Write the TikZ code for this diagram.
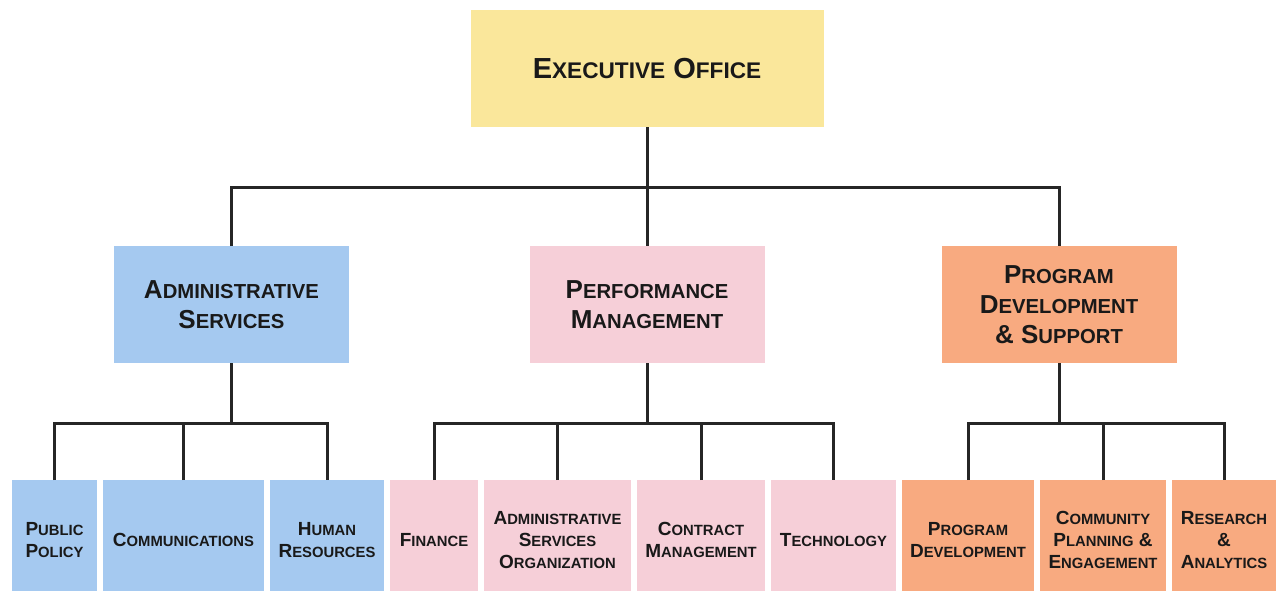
\documentclass[tikz,border=0pt]{standalone}
\usepackage{fontspec}
\setmainfont{Liberation Sans}
\usetikzlibrary{positioning}
\definecolor{execyellow}{RGB}{250,231,155}
\definecolor{adminblue}{RGB}{165,201,240}
\definecolor{perfpink}{RGB}{246,207,216}
\definecolor{progorange}{RGB}{248,170,128}
\makeatletter
\newcommand{\lowcap}[1]{{\fontsize{\fpeval{0.78*\f@size}}{\f@baselineskip}\selectfont #1}}
\makeatother

\begin{document}
\begin{tikzpicture}[x=0.5pt,y=-0.5pt,node distance=3pt,
  unit node/.style={text=black!90,align=center,inner sep=0pt,outer sep=0pt},
  top node/.style={unit node,fill=execyellow,minimum width=176.5pt,minimum height=58.5pt,font=\bfseries\fontsize{14.5}{17}\selectfont},
  mid node/.style={unit node,minimum width=117.5pt,minimum height=58.5pt,font=\bfseries\fontsize{13}{15}\selectfont},
  low node/.style={unit node,minimum height=60pt,font=\bfseries\fontsize{9.5}{11}\selectfont},
  link/.style={line width=1.5pt,draw=black!85}]
  \useasboundingbox (0,0) rectangle (1280,590);
  \node[top node] (1) at (647,68.5) {E\lowcap{XECUTIVE} O\lowcap{FFICE}};
  \node[mid node,fill=adminblue] (2) at (231.5,304.5) {A\lowcap{DMINISTRATIVE}\\S\lowcap{ERVICES}};
  \node[mid node,fill=perfpink] (3) at (647,304.5) {P\lowcap{ERFORMANCE}\\M\lowcap{ANAGEMENT}};
  \node[mid node,fill=progorange] (4) at (1059,304.5) {P\lowcap{ROGRAM}\\D\lowcap{EVELOPMENT}\\\& S\lowcap{UPPORT}};
  \node[low node,fill=adminblue,minimum width=42.5pt] (5) at (54.5,540) {P\lowcap{UBLIC}\\P\lowcap{OLICY}};
  \node[low node,fill=adminblue,minimum width=80.5pt] (6) [right=of 5] {C\lowcap{OMMUNICATIONS}};
  \node[low node,fill=adminblue,minimum width=57pt] (7) [right=of 6] {H\lowcap{UMAN}\\R\lowcap{ESOURCES}};
  \node[low node,fill=perfpink,minimum width=44pt] (8) [right=of 7] {F\lowcap{INANCE}};
  \node[low node,fill=perfpink,minimum width=73.5pt] (9) [right=of 8] {A\lowcap{DMINISTRATIVE}\\S\lowcap{ERVICES}\\O\lowcap{RGANIZATION}};
  \node[low node,fill=perfpink,minimum width=64pt] (10) [right=of 9] {C\lowcap{ONTRACT}\\M\lowcap{ANAGEMENT}};
  \node[low node,fill=perfpink,minimum width=62.5pt] (11) [right=of 10] {T\lowcap{ECHNOLOGY}};
  \node[low node,fill=progorange,minimum width=66pt] (12) [right=of 11] {P\lowcap{ROGRAM}\\D\lowcap{EVELOPMENT}};
  \node[low node,fill=progorange,minimum width=63pt] (13) [right=of 12] {C\lowcap{OMMUNITY}\\P\lowcap{LANNING} \&\\E\lowcap{NGAGEMENT}};
  \node[low node,fill=progorange,minimum width=52pt] (14) [right=of 13] {R\lowcap{ESEARCH}\\\&\\A\lowcap{NALYTICS}};
  % top level
  \draw[link] (1.south) -- ++(0,60) coordinate (t);
  \draw[link] (2.north) |- (t) -| (4.north);
  \draw[link] (t) -- (3.north);
  % administrative services
  \draw[link] (2.south) -- ++(0,60) coordinate (a);
  \draw[link] (5.north) |- (a) -| (7.north);
  \draw[link] (6.north) -- (6.north |- a);
  % performance management
  \draw[link] (3.south) -- ++(0,60) coordinate (p);
  \draw[link] (8.north) |- (p) -| (11.north);
  \draw[link] (9.north) -- (9.north |- p);
  \draw[link] (10.north) -- (10.north |- p);
  % program development & support
  \draw[link] (4.south) -- ++(0,60) coordinate (g);
  \draw[link] (12.north) |- (g) -| (14.north);
  \draw[link] (13.north) -- (13.north |- g);
\end{tikzpicture}
\end{document}
